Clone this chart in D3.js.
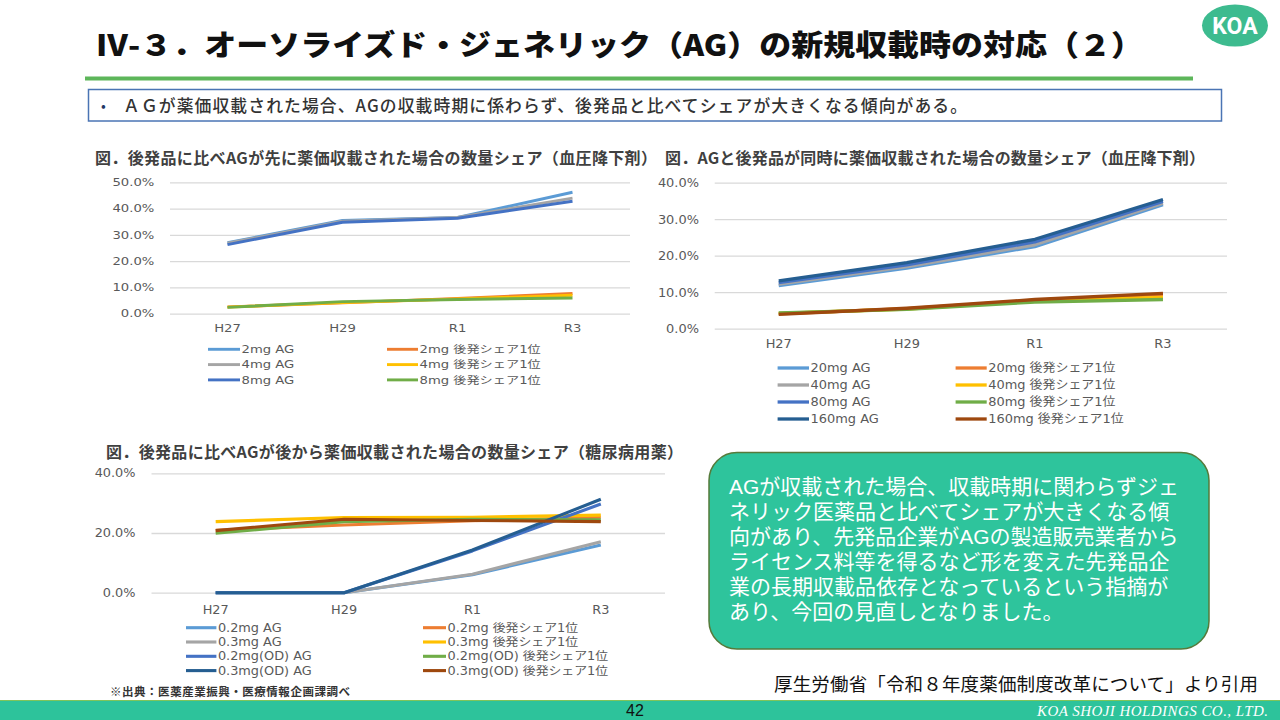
<!DOCTYPE html>
<html>
<head>
<meta charset="utf-8">
<script src="https://cdn.jsdelivr.net/npm/d3@7"></script>
<style>
  body { margin: 0; background: #fff; }
  svg { display: block; }
</style>
</head>
<body>
<script>
// ---- data ----
var years = ["H27", "H29", "R1", "R3"]

// chart 1: AG listed before generics (blood pressure)
var c1Names = ["2mg AG", "2mg 後発シェア1位", "4mg AG", "4mg 後発シェア1位", "8mg AG", "8mg 後発シェア1位"]
var c1Values = [
  [27.0, 35.5, 36.6, 46.2],
  [2.6, 4.1, 5.8, 7.7],
  [26.8, 35.2, 36.6, 44.0],
  [2.5, 4.2, 5.6, 7.0],
  [26.3, 34.8, 36.3, 42.8],
  [2.4, 4.6, 5.4, 6.0]
]
var c1Ticks = [0, 10, 20, 30, 40, 50]

// chart 2: AG and generics listed at the same time (blood pressure)
var c2Names = ["20mg AG", "20mg 後発シェア1位", "40mg AG", "40mg 後発シェア1位",
               "80mg AG", "80mg 後発シェア1位", "160mg AG", "160mg 後発シェア1位"]
var c2Values = [
  [11.8, 16.6, 22.5, 34.0],
  [4.1, 5.5, 7.8, 9.4],
  [12.2, 17.0, 23.0, 34.4],
  [4.2, 5.4, 7.6, 8.6],
  [12.6, 17.5, 23.8, 34.9],
  [4.3, 5.3, 7.3, 8.0],
  [13.1, 18.1, 24.5, 35.4],
  [3.9, 5.6, 8.0, 9.7]
]
var c2Ticks = [0, 10, 20, 30, 40]

// chart 3: AG listed after generics (diabetes)
var c3Names = ["0.2mg AG", "0.2mg 後発シェア1位", "0.3mg AG", "0.3mg 後発シェア1位",
               "0.2mg(OD) AG", "0.2mg(OD) 後発シェア1位", "0.3mg(OD) AG", "0.3mg(OD) 後発シェア1位"]
var c3Values = [
  [0, 0, 6.0, 16.0],
  [20.9, 22.7, 24.1, 25.3],
  [0, 0, 6.2, 17.1],
  [23.8, 25.2, 25.3, 26.0],
  [0, 0, 14.0, 29.7],
  [19.9, 23.8, 24.6, 24.4],
  [0, 0, 14.3, 31.3],
  [20.8, 24.6, 24.2, 23.8]
]
var c3Ticks = [0, 20, 40]

var boxLines = [
  "AGが収載された場合、収載時期に関わらずジェ",
  "ネリック医薬品と比べてシェアが大きくなる傾",
  "向があり、先発品企業がAGの製造販売業者から",
  "ライセンス料等を得るなど形を変えた先発品企",
  "業の長期収載品依存となっているという指摘が",
  "あり、今回の見直しとなりました。"
]

// excel office series colours
var palette = ["#5B9BD5", "#ED7D31", "#A5A5A5", "#FFC000", "#4472C4", "#70AD47", "#255E91", "#9E480E"]

var jp = "'Noto Sans CJK JP', sans-serif"
var chartFont = "'DejaVu Sans', 'Noto Sans CJK JP', sans-serif"

var svg = d3.select("body")
  .append("svg")
  .attr("width", 1280)
  .attr("height", 720)

drawHeader()
drawChart({
  title: "図．後発品に比べAGが先に薬価収載された場合の数量シェア（血圧降下剤）",
  titleX: 95, titleY: 157, titleLen: 562,
  left: 170, right: 630, zeroY: 313.7, topY: 182.3, max: 50,
  fs: 10, sx: 1.32, gap: 15.7, xPad: 11, lineW: 2.9,
  legendY: 349.3, legendDy: 15.3, cols: [[208, 240], [387, 418]]
}, c1Names, c1Values, c1Ticks)

drawChart({
  title: "図．AGと後発品が同時に薬価収載された場合の数量シェア（血圧降下剤）",
  titleX: 665, titleY: 157, titleLen: 540,
  left: 714.7, right: 1227, zeroY: 328.7, topY: 182.7, max: 40,
  fs: 12, sx: 1.08, gap: 15.7, xPad: 11, lineW: 3.3,
  legendY: 368, legendDy: 17, cols: [[777.6, 809], [955.6, 986.7]]
}, c2Names, c2Values, c2Ticks)

drawChart({
  title: "図．後発品に比べAGが後から薬価収載された場合の数量シェア（糖尿病用薬）",
  titleX: 106, titleY: 451, titleLen: 577,
  left: 151.5, right: 665, zeroY: 592.7, topY: 473.3, max: 40,
  fs: 11.5, sx: 1.12, gap: 16, xPad: 13, lineW: 3.1,
  legendY: 627.7, legendDy: 14.3, cols: [[186, 216.4], [423, 446]]
}, c3Names, c3Values, c3Ticks)

drawNote()
drawFooter()


function drawHeader()
{
  svg.append("text")
    .attr("x", 96)
    .attr("y", 43)
    .attr("dominant-baseline", "central")
    .attr("font-family", jp)
    .attr("font-weight", 900)
    .attr("font-size", 29)
    .attr("textLength", 1047)
    .attr("lengthAdjust", "spacingAndGlyphs")
    .attr("fill", "#111")
    .text("Ⅳ-３．オーソライズド・ジェネリック（AG）の新規収載時の対応（２）")

  // KOA logo
  svg.append("ellipse")
    .attr("cx", 1235).attr("cy", 25.5)
    .attr("rx", 33).attr("ry", 21)
    .attr("fill", "#3DBB8F")
  svg.append("text")
    .attr("x", 1235).attr("y", 26)
    .attr("text-anchor", "middle")
    .attr("dominant-baseline", "central")
    .attr("font-family", "Roboto, sans-serif")
    .attr("font-weight", 700)
    .attr("font-size", 23)
    .attr("fill", "#fff")
    .text("KOA")

  // green rule under the title
  svg.append("rect")
    .attr("x", 85).attr("y", 76.5)
    .attr("width", 1108).attr("height", 4)
    .attr("fill", "#5DB65A")

  // summary box
  svg.append("rect")
    .attr("x", 88.5).attr("y", 89.5)
    .attr("width", 1133).attr("height", 31.5)
    .attr("fill", "#fff")
    .attr("stroke", "#4A74B4")
    .attr("stroke-width", 1.5)
  svg.append("text")
    .attr("x", 101).attr("y", 105)
    .attr("dominant-baseline", "central")
    .attr("font-family", jp)
    .attr("font-size", 14)
    .attr("fill", "#1F3864")
    .text("•")
  svg.append("text")
    .attr("x", 123).attr("y", 105)
    .attr("dominant-baseline", "central")
    .attr("font-family", jp)
    .attr("font-weight", 500)
    .attr("font-size", 16.8)
    .attr("textLength", 844)
    .attr("fill", "#333")
    .text("ＡＧが薬価収載された場合、AGの収載時期に係わらず、後発品と比べてシェアが大きくなる傾向がある。")
}


function drawChart(o, names, values, ticks)
{
  var g = svg.append("g")

  var x = d3.scaleBand()
    .domain(years)
    .range([o.left, o.right])

  var y = d3.scaleLinear()
    .domain([0, o.max])
    .range([o.zeroY, o.topY])

  g.append("text")
    .attr("x", o.titleX)
    .attr("y", o.titleY)
    .attr("dominant-baseline", "central")
    .attr("font-family", jp)
    .attr("font-weight", 700)
    .attr("font-size", 16)
    .attr("textLength", o.titleLen)
    .attr("fill", "#404040")
    .text(o.title)

  // y axis, tick lines used as gridlines
  var yAxis = d3.axisLeft(y)
    .tickValues(ticks)
    .tickSize(-(o.right - o.left))
    .tickPadding(o.gap / o.sx)
    .tickFormat(function(d) { return d.toFixed(1) + "%" })

  var ya = g.append("g")
    .attr("transform", "translate(" + o.left + ",0)")
    .call(yAxis)
  ya.select(".domain").remove()
  ya.selectAll("line")
    .attr("stroke", "#D9D9D9")
    .attr("stroke-width", 1.3)
  ya.selectAll("text")
    .attr("transform", "scale(" + o.sx + ",1)")
    .attr("font-family", chartFont)
    .attr("font-size", o.fs)
    .attr("fill", "#595959")

  var xAxis = d3.axisBottom(x)
    .tickSize(0)
    .tickPadding(o.xPad)

  var xa = g.append("g")
    .attr("transform", "translate(0," + o.zeroY + ")")
    .call(xAxis)
  xa.select(".domain").remove()
  xa.selectAll("text")
    .attr("transform", "scale(" + o.sx + ",1)")
    .attr("font-family", chartFont)
    .attr("font-size", o.fs)
    .attr("fill", "#595959")

  // series lines
  var line = d3.line()
    .x(function(d, i) { return x(years[i]) + x.bandwidth() / 2 })
    .y(function(d) { return y(d) })

  g.append("g")
    .selectAll("path")
    .data(values)
    .enter()
    .append("path")
    .attr("d", line)
    .attr("fill", "none")
    .attr("stroke", function(d, i) { return palette[i] })
    .attr("stroke-width", o.lineW)
    .attr("stroke-linejoin", "round")

  // legend: AG on the left column, generics on the right
  var items = g.append("g")
    .selectAll("g")
    .data(names)
    .enter()
    .append("g")
    .attr("transform", function(d, i) {
      return "translate(0," + (o.legendY + Math.floor(i / 2) * o.legendDy) + ")"
    })

  items.append("line")
    .attr("x1", function(d, i) { return o.cols[i % 2][0] })
    .attr("x2", function(d, i) { return o.cols[i % 2][1] })
    .attr("stroke", function(d, i) { return palette[i] })
    .attr("stroke-width", o.lineW)

  items.append("text")
    .attr("transform", function(d, i) {
      return "translate(" + (o.cols[i % 2][1] + 1.5) + ",0) scale(" + o.sx + ",1)"
    })
    .attr("dy", "0.36em")
    .attr("font-family", chartFont)
    .attr("font-size", o.fs)
    .attr("fill", "#595959")
    .text(function(d) { return d })
}


function drawNote()
{
  svg.append("rect")
    .attr("x", 709).attr("y", 452.5)
    .attr("width", 500).attr("height", 196.5)
    .attr("rx", 28).attr("ry", 28)
    .attr("fill", "#2EC49C")
    .attr("stroke", "#557A3A")
    .attr("stroke-width", 1.5)

  // one text block, wrapped into lines; latin face first keeps line boxes tight
  svg.append("text")
    .attr("font-family", "'Liberation Sans', 'Noto Sans CJK JP', sans-serif")
    .attr("font-size", 21)
    .attr("fill", "#fff")
    .selectAll("tspan")
    .data(boxLines)
    .enter()
    .append("tspan")
    .attr("x", 729)
    .attr("y", function(d, i) { return 494 + i * 25 })
    .text(function(d) { return d })

  svg.append("text")
    .attr("x", 774).attr("y", 683)
    .attr("dominant-baseline", "central")
    .attr("font-family", jp)
    .attr("font-size", 18.5)
    .attr("textLength", 484)
    .attr("fill", "#111")
    .text("厚生労働省「令和８年度薬価制度改革について」より引用")

  svg.append("text")
    .attr("x", 110).attr("y", 691)
    .attr("dominant-baseline", "central")
    .attr("font-family", jp)
    .attr("font-weight", 700)
    .attr("font-size", 11.5)
    .attr("textLength", 240)
    .attr("fill", "#333")
    .text("※出典：医薬産業振興・医療情報企画課調べ")
}


function drawFooter()
{
  svg.append("rect")
    .attr("x", 0).attr("y", 700)
    .attr("width", 1280).attr("height", 20)
    .attr("fill", "#2DC39B")
  svg.append("line")
    .attr("x1", 0).attr("x2", 1280)
    .attr("y1", 700.5).attr("y2", 700.5)
    .attr("stroke", "#7FC45A")
    .attr("stroke-width", 1)

  svg.append("text")
    .attr("x", 635).attr("y", 710.5)
    .attr("text-anchor", "middle")
    .attr("dominant-baseline", "central")
    .attr("font-family", "'Liberation Sans Narrow', 'Liberation Sans', sans-serif")
    .attr("font-size", 16)
    .attr("fill", "#111")
    .text("42")

  svg.append("text")
    .attr("x", 1268).attr("y", 711)
    .attr("text-anchor", "end")
    .attr("dominant-baseline", "central")
    .attr("font-family", "'Liberation Serif', serif")
    .attr("font-style", "italic")
    .attr("font-size", 15)
    .attr("textLength", 231)
    .attr("fill", "#fff")
    .text("KOA SHOJI HOLDINGS CO., LTD.")
}
</script>
</body>
</html>
